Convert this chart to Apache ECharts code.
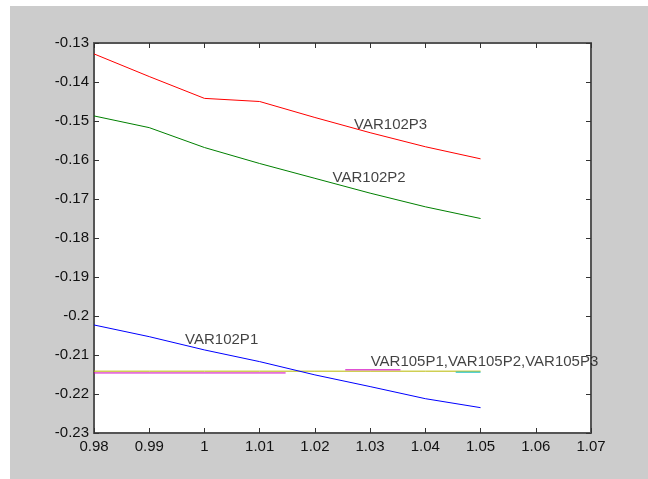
<!DOCTYPE html>
<html>
<head>
<meta charset="utf-8">
<script src="https://cdn.jsdelivr.net/npm/echarts@6/dist/echarts.min.js"></script>
<style>
html,body{margin:0;padding:0;background:#ffffff;width:648px;height:479px;overflow:hidden;}
#chart{position:absolute;left:10px;top:6px;width:638px;height:473px;}
</style>
</head>
<body>
<div id="chart"></div>
<script>
// ---- data ----
const xValues = [0.98, 0.99, 1.00, 1.01, 1.02, 1.03, 1.04, 1.05];
const var102P1 = [-0.2023, -0.2053, -0.2087, -0.2117, -0.2151, -0.2181, -0.2212, -0.2235];
const var102P2 = [-0.1487, -0.1517, -0.1568, -0.1609, -0.1647, -0.1685, -0.1720, -0.1750];
const var102P3 = [-0.1328, -0.1386, -0.1442, -0.1450, -0.1491, -0.1530, -0.1566, -0.1597];
// VAR105 lines overlap almost exactly; visible pieces
const var105P3 = [-0.21415, -0.21415, -0.21415, -0.21415, -0.21415, -0.21415, -0.21415, -0.21415];
const var105P2X = [0.98, 1.0147, null, 1.0255, 1.0355];
const var105P2Y = [-0.2146, -0.2146, null, -0.2138, -0.2138];
const var105P1X = [1.0455, 1.05];
const var105P1Y = [-0.2144, -0.2144];

const xTickLabels = ['0.98', '0.99', '1', '1.01', '1.02', '1.03', '1.04', '1.05', '1.06', '1.07'];
const yTickLabels = ['-0.23', '-0.22', '-0.21', '-0.2', '-0.19', '-0.18', '-0.17', '-0.16', '-0.15', '-0.14', '-0.13'];

const labelText = ['VAR102P3', 'VAR102P2', 'VAR102P1', 'VAR105P1,VAR105P2,VAR105P3'];
const labelX = [1.0271, 1.0232, 0.9965, 1.0301];
const labelY = [-0.1511, -0.1647, -0.2061, -0.2117];

// ---- chart ----
const FONT = "'Liberation Sans', Arial, sans-serif";
const AXIS_COLOR = '#555555';
const pairs = (xs, ys) => xs.map((x, i) => (x === null ? [null, null] : [x, ys[i]]));

function mkX(pos, showLabel) {
  return {
    type: 'value', position: pos, min: 0.98, max: 1.07, interval: 0.01,
    axisLine: { show: true, onZero: false, lineStyle: { color: AXIS_COLOR, width: 2 } },
    axisTick: { show: true, inside: true, length: 5, lineStyle: { color: '#333', width: 1 } },
    axisLabel: {
      show: showLabel, margin: 6, color: '#111111', fontSize: 15, fontFamily: FONT,
      formatter: (v) => xTickLabels[Math.round((v - 0.98) / 0.01)]
    },
    splitLine: { show: false }
  };
}
function mkY(pos, showLabel) {
  return {
    type: 'value', position: pos, min: -0.23, max: -0.13, interval: 0.01,
    axisLine: { show: true, onZero: false, lineStyle: { color: AXIS_COLOR, width: 2 } },
    axisTick: { show: true, inside: true, length: 5, lineStyle: { color: '#333', width: 1 } },
    axisLabel: {
      show: showLabel, margin: 5, color: '#111111', fontSize: 15, fontFamily: FONT,
      formatter: (v) => yTickLabels[Math.round((v + 0.23) / 0.01)]
    },
    splitLine: { show: false }
  };
}
function lineSeries(name, data, color) {
  return {
    name, type: 'line', data, symbol: 'none', connectNulls: false,
    lineStyle: { color, width: 1 }, itemStyle: { color },
    animation: false, silent: true
  };
}

const chart = echarts.init(document.getElementById('chart'), null, { renderer: 'canvas' });
chart.setOption({
  backgroundColor: '#cccccc',
  animation: false,
  grid: { left: 84, top: 37, width: 497, height: 390, show: true, backgroundColor: '#ffffff', borderWidth: 0 },
  xAxis: [mkX('bottom', true), mkX('top', false)],
  yAxis: [mkY('left', true), mkY('right', false)],
  series: [
    lineSeries('VAR105P3', pairs(xValues, var105P3), '#b8b800'),
    lineSeries('VAR105P2', pairs(var105P2X, var105P2Y), '#d000c0'),
    lineSeries('VAR105P1', pairs(var105P1X, var105P1Y), '#00b8c0'),
    lineSeries('VAR102P1', pairs(xValues, var102P1), '#0000ff'),
    lineSeries('VAR102P2', pairs(xValues, var102P2), '#008000'),
    lineSeries('VAR102P3', pairs(xValues, var102P3), '#ff0000'),
    {
      type: 'scatter', symbolSize: 0, silent: true, animation: false,
      data: labelText.map((t, i) => ({ name: t, value: [labelX[i], labelY[i]] })),
      label: {
        show: true, position: 'right', distance: 0, formatter: (p) => p.name,
        color: '#111111', fontSize: 15, fontFamily: FONT, verticalAlign: 'middle'
      }
    }
  ]
});
</script>
</body>
</html>
